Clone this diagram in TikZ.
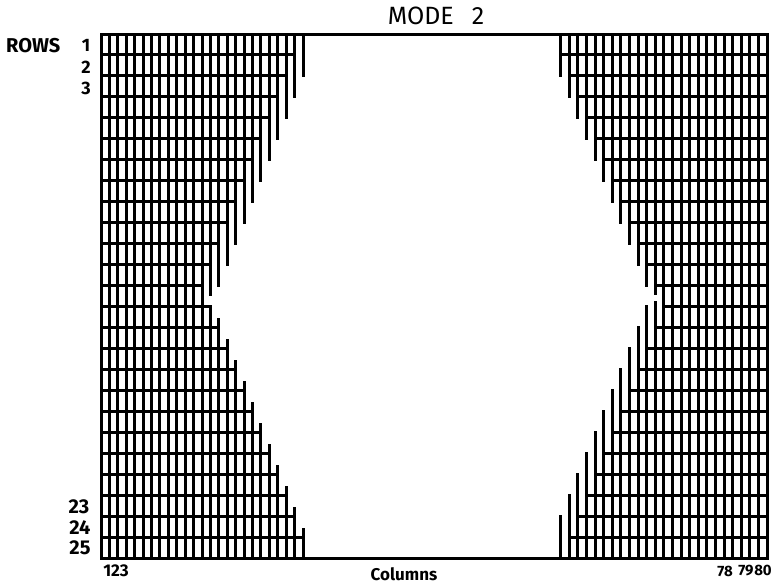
\documentclass[tikz,border=0pt]{standalone}
\usepackage{fontspec}
\setmainfont{Fira Sans}
\begin{document}
\begin{tikzpicture}[x=1pt,y=-1pt,
  grid/.style={line width=3pt,line cap=rect,black},
  lbl/.style={inner sep=0pt,font=\bfseries\fontsize{18}{20}\selectfont}]
\useasboundingbox (0,0) rectangle (775,584);
\def\h{20.96}
\def\wl{8.42}
\def\wr{8.6}
% outer border lines
\draw[grid] (101,34) -- (767,34);
\draw[grid] (101,558) -- (767,558);
% horizontal row boundaries
\foreach \k in {1,...,24}{
  \pgfmathsetmacro\yy{34+\k*\h}
  \pgfmathsetmacro\nl{\k<12 ? 24-\k : (\k==12 ? 12 : \k)}
  \pgfmathsetmacro\mr{\k<13 ? 25-\k : (\k==13 ? 12 : \k-1)}
  \draw[grid] (101,\yy) -- ({101+\nl*\wl},\yy);
  \draw[grid] ({767-\mr*\wr},\yy) -- (767,\yy);
}
% left verticals
\foreach \i in {0,...,12}{
  \draw[grid] ({101+\i*\wl},34) -- ({101+\i*\wl},558);
}
\foreach \i in {13,...,24}{
  \pgfmathsetmacro\xx{101+\i*\wl}
  \pgfmathsetmacro\ya{\i==13 ? 34+12.45*\h : 34+(26-\i)*\h}
  \pgfmathsetmacro\yb{\i==13 ? 34+13*\h : 34+\i*\h-8}
  \draw[grid] (\xx,34) -- (\xx,\ya);
  \draw[grid] (\xx,\yb) -- (\xx,558);
}
% right verticals
\foreach \j in {0,...,12}{
  \draw[grid] ({767-\j*\wr},34) -- ({767-\j*\wr},558);
}
\foreach \j in {13,...,24}{
  \pgfmathsetmacro\xx{767-\j*\wr}
  \pgfmathsetmacro\ya{\j==13 ? 34+12.4*\h : 34+(26-\j)*\h}
  \pgfmathsetmacro\yb{\j==13 ? 34+12.8*\h : 34+(\j-1)*\h}
  \draw[grid] (\xx,34) -- (\xx,\ya);
  \draw[grid] (\xx,\yb) -- (\xx,558);
}
% labels
\node[lbl,font=\fontsize{25}{27}\selectfont] (title) at (436,16) {MODE\hspace{18pt}2};
\node[lbl,anchor=west,font=\bfseries\fontsize{20}{22}\selectfont] (rows) at (6,46) {ROWS};
\node[lbl] (r1) at (86,45) {1};
\node[lbl] (r2) at (86,67) {2};
\node[lbl] (r3) at (86,88) {3};
\node[lbl,font=\bfseries\fontsize{20}{22}\selectfont] (r23) at (79,507) {23};
\node[lbl,font=\bfseries\fontsize{20}{22}\selectfont] (r24) at (80,528) {24};
\node[lbl,font=\bfseries\fontsize{20}{22}\selectfont] (r25) at (80,548) {25};
\node[lbl,font=\bfseries\fontsize{17}{19}\selectfont] (c123) at (116,571) {123};
\node[lbl,font=\bfseries\fontsize{17}{19}\selectfont] (cols) at (404,574) {Columns};
\node[lbl,font=\bfseries\fontsize{15}{17}\selectfont] (c78) at (725,571) {78};
\node[lbl,font=\bfseries\fontsize{15}{17}\selectfont] (c79) at (746,571) {79};
\node[lbl,font=\bfseries\fontsize{15}{17}\selectfont] (c80) at (763,570) {80};
\end{tikzpicture}
\end{document}
